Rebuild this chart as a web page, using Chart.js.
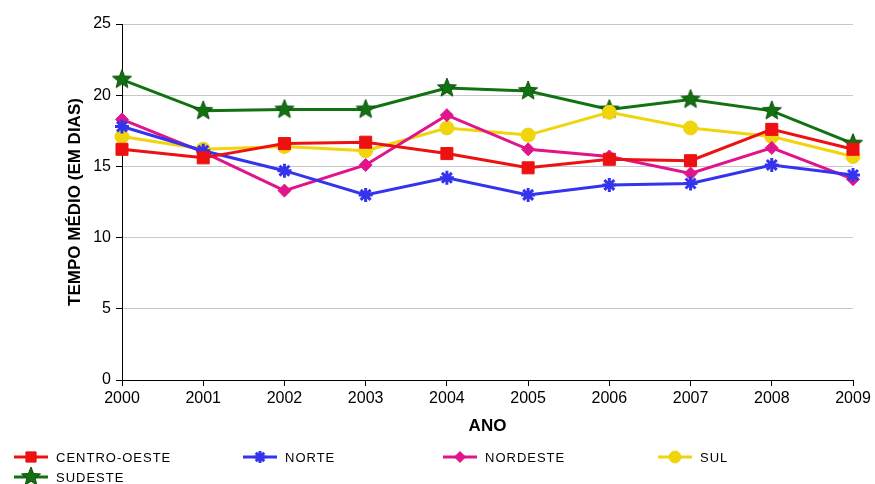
<!DOCTYPE html>
<html>
<head>
<meta charset="utf-8">
<script src="https://cdn.jsdelivr.net/npm/chart.js@4/dist/chart.umd.min.js"></script>
<style>
  html, body { margin: 0; padding: 0; background: #fff; }
  #wrap { width: 875px; height: 484px; }
</style>
</head>
<body>
<div id="wrap"><canvas id="c" width="875" height="484"></canvas></div>
<script>
// Tempo médio (em dias) por região, 2000–2009
const anos = ['2000', '2001', '2002', '2003', '2004', '2005', '2006', '2007', '2008', '2009'];
const centroOeste = [16.2, 15.6, 16.6, 16.7, 15.9, 14.9, 15.5, 15.4, 17.6, 16.2];
const norte       = [17.8, 16.1, 14.7, 13.0, 14.2, 13.0, 13.7, 13.8, 15.1, 14.4];
const nordeste    = [18.3, 16.0, 13.3, 15.1, 18.6, 16.2, 15.7, 14.5, 16.3, 14.1];
const sul         = [17.1, 16.2, 16.4, 16.1, 17.7, 17.2, 18.8, 17.7, 17.1, 15.7];
const sudeste     = [21.1, 18.9, 19.0, 19.0, 20.5, 20.3, 19.0, 19.7, 18.9, 16.6];
const yTicks = [0, 5, 10, 15, 20, 25];

const FONT = "'Liberation Sans', Arial, sans-serif";

// five-pointed star marker drawn on a small canvas
function makeStar(fill, stroke, outer, inner) {
  const size = Math.ceil(outer * 2 + 4);
  const cv = document.createElement('canvas');
  cv.width = size; cv.height = size;
  const g = cv.getContext('2d');
  const cx = size / 2, cy = size / 2;
  g.beginPath();
  for (let i = 0; i < 10; i++) {
    const r = i % 2 === 0 ? outer : inner;
    const a = -Math.PI / 2 + i * Math.PI / 5;
    const px = cx + r * Math.cos(a), py = cy + r * Math.sin(a);
    if (i === 0) g.moveTo(px, py); else g.lineTo(px, py);
  }
  g.closePath();
  g.fillStyle = fill;
  g.fill();
  g.lineWidth = 1;
  g.strokeStyle = stroke;
  g.stroke();
  return cv;
}
const starGreen = makeStar('#127212', '#0b4d0b', 10, 4.3);

function serie(label, data, color, style, radius, borderWidth) {
  return {
    label, data,
    borderColor: color,
    backgroundColor: color,
    pointBackgroundColor: color,
    pointBorderColor: color,
    pointStyle: style,
    pointRadius: radius,
    pointHoverRadius: radius,
    pointBorderWidth: borderWidth,
    borderWidth: 3,
    tension: 0,
    fill: false
  };
}

const datasets = [
  serie('CENTRO-OESTE', centroOeste, '#ee1111', 'rect', 8.5, 1),
  serie('NORTE', norte, '#3434ee', 'star', 7, 3),
  serie('NORDESTE', nordeste, '#e0158c', 'rectRot', 6.5, 1),
  serie('SUL', sul, '#f0d40c', 'circle', 7, 1),
  serie('SUDESTE', sudeste, '#127212', starGreen, 10, 1)
];

// legend laid out in fixed columns below the axis title
const bottomLegend = {
  id: 'bottomLegend',
  afterDraw(chart, args, opts) {
    const ctx = chart.ctx;
    const cols = opts.columns;
    ctx.save();
    chart.data.datasets.forEach((ds, i) => {
      const col = i % cols.length;
      const row = Math.floor(i / cols.length);
      const x = cols[col];
      const y = opts.top + row * opts.rowHeight;
      ctx.strokeStyle = ds.borderColor;
      ctx.fillStyle = ds.pointBackgroundColor;
      ctx.lineWidth = 3;
      ctx.beginPath();
      ctx.moveTo(x, y);
      ctx.lineTo(x + opts.lineLength, y);
      ctx.stroke();
      ctx.lineWidth = ds.pointBorderWidth;
      Chart.helpers.drawPoint(ctx, {
        pointStyle: ds.pointStyle,
        radius: ds.pointStyle === starGreen ? 10 : ds.pointRadius * 0.85,
        rotation: 0,
        borderWidth: ds.pointBorderWidth
      }, x + opts.lineLength / 2, y);
      ctx.fillStyle = '#000';
      ctx.font = '13px ' + FONT;
      ctx.letterSpacing = '1px';
      ctx.textBaseline = 'middle';
      ctx.textAlign = 'left';
      ctx.fillText(ds.label, x + opts.lineLength + 8, y + 1);
    });
    ctx.restore();
  }
};

new Chart(document.getElementById('c'), {
  type: 'line',
  data: { labels: anos, datasets },
  plugins: [bottomLegend],
  options: {
    responsive: false,
    devicePixelRatio: 1,
    animation: false,
    layout: { padding: { left: 0, right: 22, top: 24, bottom: 44 } },
    plugins: {
      legend: { display: false },
      tooltip: { enabled: false },
      bottomLegend: { columns: [14, 243, 443, 658], top: 457, rowHeight: 20, lineLength: 34 }
    },
    scales: {
      x: {
        type: 'category',
        offset: false,
        grid: { display: true, drawOnChartArea: false, drawTicks: true, tickLength: 6, tickColor: '#000' },
        border: { display: true, color: '#000', width: 1 },
        ticks: { color: '#000', font: { family: FONT, size: 16 }, padding: 3, maxRotation: 0, autoSkip: false },
        title: { display: true, text: 'ANO', color: '#000', font: { family: FONT, size: 17, weight: 'bold' }, padding: { top: 4, bottom: 3 } },
        afterFit(s) { s.height = 60; }
      },
      y: {
        min: 0, max: 25,
        afterBuildTicks(s) { s.ticks = yTicks.map(v => ({ value: v })); },
        grid: { color: '#c8c8c8', drawTicks: true, tickLength: 6, tickColor: '#000' },
        border: { display: true, color: '#000', width: 1 },
        ticks: { color: '#000', font: { family: FONT, size: 16 }, padding: 5 },
        title: { display: true, text: 'TEMPO MÉDIO (EM DIAS)', color: '#000', font: { family: FONT, size: 17, weight: 'bold' }, padding: { top: 65, bottom: 4 } },
        afterFit(s) { s.width = 122; }
      }
    }
  }
});
</script>
</body>
</html>
